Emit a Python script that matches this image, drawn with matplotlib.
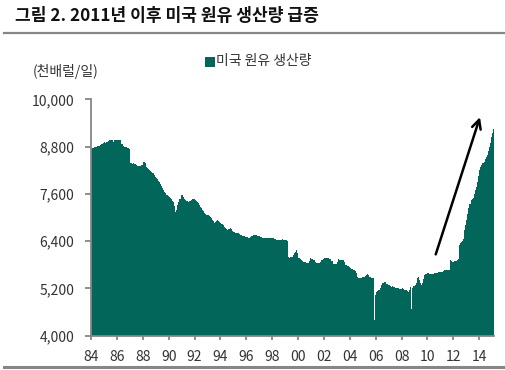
import matplotlib
matplotlib.use("Agg")
import matplotlib.pyplot as plt
from matplotlib.patches import Rectangle
from matplotlib.lines import Line2D
import numpy as np

plt.rcParams['font.family'] = ['Noto Sans CJK KR', 'DejaVu Sans']

title = "그림 2. 2011년 이후 미국 원유 생산량 급증"
unit_label = "(천배럴/일)"
series_name = "미국 원유 생산량"
start_year = 1984

# Monthly US crude oil production (thousand barrels/day), Jan 1984 - Feb 2015
prod_1984 = [8750, 8760, 8770, 8780, 8790, 8800, 8810, 8820, 8840, 8860, 8880, 8900]
prod_1985 = [8910, 8900, 8920, 8930, 8950, 8960, 8965, 8960, 8925, 8965, 8965, 8965]
prod_1986 = [8965, 8965, 8960, 8965, 8880, 8860, 8820, 8795, 8780, 8760, 8754, 8740]
prod_1987 = [8380, 8374, 8370, 8374, 8360, 8348, 8340, 8305, 8310, 8320, 8330, 8340]
prod_1988 = [8415, 8420, 8380, 8288, 8260, 8230, 8204, 8180, 8150, 8120, 8080, 8040]
prod_1989 = [8009, 7980, 7940, 7907, 7860, 7800, 7740, 7700, 7650, 7613, 7580, 7550]
prod_1990 = [7527, 7500, 7460, 7420, 7400, 7300, 7130, 7200, 7316, 7400, 7480, 7570]
prod_1991 = [7570, 7520, 7470, 7443, 7430, 7420, 7400, 7410, 7430, 7450, 7460, 7460]
prod_1992 = [7440, 7420, 7400, 7360, 7320, 7273, 7230, 7200, 7160, 7105, 7090, 7075]
prod_1993 = [7062, 7040, 7010, 6978, 6940, 6900, 6852, 6880, 6900, 6935, 6920, 6890]
prod_1994 = [6852, 6830, 6800, 6760, 6730, 6700, 6682, 6700, 6720, 6724, 6700, 6660]
prod_1995 = [6639, 6630, 6620, 6610, 6600, 6580, 6560, 6555, 6540, 6530, 6520, 6512]
prod_1996 = [6512, 6500, 6490, 6500, 6520, 6540, 6555, 6560, 6555, 6550, 6540, 6530]
prod_1997 = [6520, 6512, 6500, 6490, 6480, 6470, 6470, 6470, 6475, 6480, 6485, 6485]
prod_1998 = [6485, 6470, 6460, 6450, 6440, 6430, 6420, 6428, 6440, 6450, 6440, 6428]
prod_1999 = [6428, 6420, 6410, 6000, 5963, 5990, 6005, 6040, 6100, 6131, 6174, 6100]
prod_2000 = [5980, 5963, 5940, 5920, 5900, 5878, 5860, 5850, 5840, 5837, 5900, 5963]
prod_2001 = [5950, 5940, 5930, 5920, 5880, 5850, 5837, 5850, 5880, 5920, 5930, 5950]
prod_2002 = [5980, 5975, 5970, 5965, 5963, 5960, 5940, 5900, 5811, 5811, 5820, 5811]
prod_2003 = [5860, 5938, 5930, 5925, 5920, 5920, 5910, 5860, 5794, 5780, 5760, 5740]
prod_2004 = [5710, 5700, 5690, 5680, 5667, 5640, 5600, 5497, 5470, 5456, 5460, 5480]
prod_2005 = [5490, 5497, 5520, 5540, 5558, 5540, 5500, 5497, 5470, 5456, 4398, 5033]
prod_2006 = [5100, 5140, 5160, 5160, 5200, 5286, 5329, 5340, 5370, 5370, 5320, 5300]
prod_2007 = [5280, 5260, 5243, 5250, 5243, 5230, 5220, 5210, 5202, 5200, 5190, 5180]
prod_2008 = [5202, 5180, 5170, 5160, 5150, 5140, 5117, 5160, 5243, 4680, 5202, 5260]
prod_2009 = [5300, 5329, 5456, 5497, 5420, 5350, 5300, 5329, 5450, 5540, 5560, 5570]
prod_2010 = [5583, 5570, 5560, 5558, 5560, 5570, 5580, 5583, 5590, 5600, 5610, 5624]
prod_2011 = [5624, 5630, 5640, 5660, 5667, 5667, 5660, 5667, 5670, 5920, 5890, 5878]
prod_2012 = [5878, 5890, 5900, 5920, 5950, 6300, 6344, 6385, 6400, 6450, 6682, 6808]
prod_2013 = [6950, 7100, 7250, 7350, 7443, 7460, 7500, 7600, 7700, 7780, 7900, 8050]
prod_2014 = [8204, 8280, 8340, 8374, 8420, 8480, 8541, 8600, 8700, 8795, 8900, 9049]
prod_2015 = [9150, 9237]

production = (prod_1984 + prod_1985 + prod_1986 + prod_1987 + prod_1988 + prod_1989 +
              prod_1990 + prod_1991 + prod_1992 + prod_1993 + prod_1994 + prod_1995 +
              prod_1996 + prod_1997 + prod_1998 + prod_1999 + prod_2000 + prod_2001 +
              prod_2002 + prod_2003 + prod_2004 + prod_2005 + prod_2006 + prod_2007 +
              prod_2008 + prod_2009 + prod_2010 + prod_2011 + prod_2012 + prod_2013 +
              prod_2014 + prod_2015)

y_ticks = [4000, 5200, 6400, 7600, 8800, 10000]
x_tick_years = list(range(1984, 2015, 2))
x_tick_labels = [f"{y % 100:02d}" for y in x_tick_years]

arrow_start = (2010.64, 6065)
arrow_end = (2014.06, 9549)

teal = '#03665a'
gray = '#868686'

W, H = 506, 370
fig = plt.figure(figsize=(W / 100, H / 100), dpi=100)

n = len(production)
edges = start_year + np.arange(n + 1) / 12.0

x_left = 91 / W
x_right = 494.3 / W
y_bot = (H - 335.7) / H
y_top = (H - 99.4) / H
ax = fig.add_axes([x_left, y_bot, x_right - x_left, y_top - y_bot])

ax.stairs(production, edges, fill=True, baseline=4000, color=teal, linewidth=0)
ax.set_xlim(edges[0], edges[-1])
ax.set_ylim(4000, 10000)

ax.set_yticks(y_ticks)
ax.set_yticklabels([f"{v:,}" for v in y_ticks])
ax.set_xticks(x_tick_years)
ax.set_xticklabels(x_tick_labels)

for s in ['top', 'right']:
    ax.spines[s].set_visible(False)
for s in ['left', 'bottom']:
    ax.spines[s].set_color(gray)
    ax.spines[s].set_linewidth(1.3)
ax.tick_params(axis='y', length=4, width=1.3, color=gray, pad=8, labelsize=10, labelcolor='#333333')
ax.tick_params(axis='x', length=3, width=1.3, color=gray, pad=7, labelsize=10, labelcolor='#333333')

ax.annotate('', xy=arrow_end, xytext=arrow_start,
            arrowprops=dict(arrowstyle='->', lw=1.8, color='black', mutation_scale=16,
                            shrinkA=0, shrinkB=0),
            annotation_clip=False)

# Title and rules
fig.text(15 / W, 1 - 16 / H, title, fontsize=12.3, fontweight='bold', va='center', ha='left',
         color='#111111')
fig.add_artist(Line2D([4 / W, 1], [1 - 33 / H, 1 - 33 / H], color=gray, lw=1.6))
fig.add_artist(Line2D([4 / W, 1], [1 - 366.5 / H, 1 - 366.5 / H], color=gray, lw=2.2))

# Unit label
fig.text(33 / W, 1 - 71.5 / H, unit_label, fontsize=10, va='center', ha='left', color='#333333')

# Legend
fig.add_artist(Rectangle((205 / W, 1 - 67 / H), 10 / W, 10 / H, transform=fig.transFigure,
                         facecolor=teal, edgecolor='none'))
fig.text(216 / W, 1 - 61.5 / H, series_name, fontsize=10, va='center', ha='left', color='#333333')

fig.savefig('out.png', dpi=100)
